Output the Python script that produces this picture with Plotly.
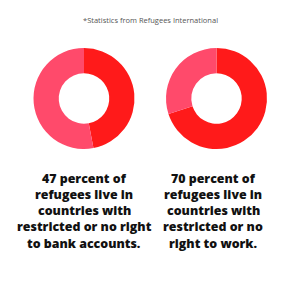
import plotly.graph_objects as go

labels = ["Restricted or no right", "Other"]
bank_values = [47, 53]
work_values = [70, 30]
colors = ["#FF1A1A", "#FF4A6B"]
caption_left = ["47 percent of", "refugees live in", "countries with", "restricted or no right", "to bank accounts."]
caption_right = ["70 percent of", "refugees live in", "countries with", "restricted or no", "right to work."]
source = "*Statistics from Refugees International"

fig = go.Figure()
for vals, xd in [(bank_values, [33/300, 135/300]), (work_values, [166/300, 267/300])]:
    fig.add_trace(go.Pie(
        labels=labels, values=vals, hole=0.5, sort=False, direction="clockwise",
        rotation=0, marker=dict(colors=colors, line=dict(width=0)),
        textinfo="none", hoverinfo="skip", showlegend=False,
        domain=dict(x=xd, y=[1-149/300, 1-48/300]),
    ))

fig.add_annotation(text=source, x=0.5, y=1-20/300, xref="paper", yref="paper",
                   xanchor="center", yanchor="middle",
                   showarrow=False, font=dict(family="Open Sans", size=7.5, color="#555555"))
for lines, xc in [(caption_left, 84/300), (caption_right, 213/300)]:
    for i, ln in enumerate(lines):
        fig.add_annotation(text=ln, x=xc, y=1-(178 + 16.3*i)/300,
                           xref="paper", yref="paper", xanchor="center", yanchor="middle",
                           showarrow=False,
                           font=dict(family="Open Sans", size=12.4, weight=800, color="#111111"))

fig.update_layout(width=300, height=300, margin=dict(l=0, r=0, t=0, b=0),
                  paper_bgcolor="white", plot_bgcolor="white")
fig.write_html("out.html")
